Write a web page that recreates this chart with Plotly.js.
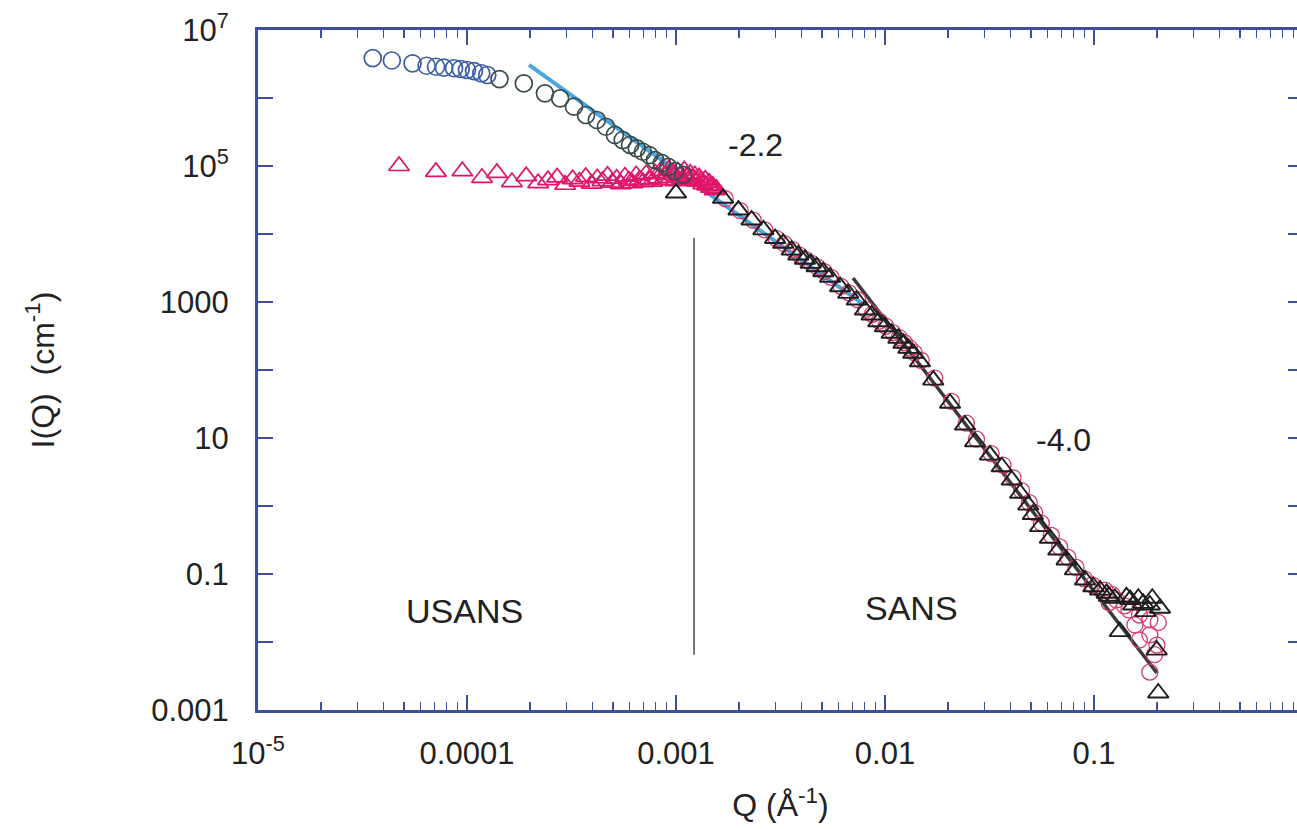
<!DOCTYPE html>
<html>
<head>
<meta charset="utf-8">
<script src="https://cdn.plot.ly/plotly-3.0.1.min.js"></script>
<style>
html, body { margin: 0; padding: 0; overflow: hidden; background: #fff; }
#chart { width: 1320px; height: 829px; }
</style>
</head>
<body>
<div id="chart"></div>
<script>
// ---- USANS circles (sample A) ----
const usansCircleBlueQ = [3.54e-5, 4.37e-5, 5.49e-5, 6.41e-5, 7.11e-5, 7.76e-5, 8.67e-5, 9.33e-5, 1.00e-4, 1.08e-4, 1.17e-4, 1.25e-4];
const usansCircleBlueI = [3.87e6, 3.56e6, 3.24e6, 2.98e6, 2.88e6, 2.79e6, 2.74e6, 2.67e6, 2.58e6, 2.49e6, 2.31e6, 2.18e6];
const usansCircleDarkQ = [1.43e-4, 1.87e-4, 2.36e-4, 2.79e-4, 3.25e-4, 3.71e-4, 4.18e-4, 4.62e-4, 5.10e-4, 5.56e-4, 6.03e-4, 6.49e-4, 6.94e-4, 7.45e-4, 7.94e-4, 8.55e-4, 9.17e-4, 9.89e-4, 1.08e-3];
const usansCircleDarkI = [1.90e6, 1.64e6, 1.17e6, 9.9e5, 7.45e5, 5.62e5, 4.75e5, 3.78e5, 2.86e5, 2.41e5, 2.04e5, 1.82e5, 1.62e5, 1.45e5, 1.22e5, 1.10e5, 9.7e4, 8.4e4, 7.4e4];

// ---- USANS triangles (sample B) ----
const usansTriQ = [4.73e-5, 7.1e-5, 9.5e-5, 1.18e-4, 1.39e-4, 1.64e-4, 1.92e-4, 2.19e-4, 2.44e-4, 2.7e-4,
  2.95e-4, 3.2e-4, 3.45e-4, 3.7e-4, 3.95e-4, 4.2e-4, 4.45e-4, 4.7e-4, 4.95e-4, 5.2e-4,
  5.45e-4, 5.7e-4, 5.95e-4, 6.2e-4, 6.45e-4, 6.7e-4, 6.95e-4, 7.2e-4, 7.45e-4, 7.7e-4,
  7.95e-4, 8.2e-4, 8.45e-4, 8.7e-4, 8.95e-4, 9.2e-4, 9.45e-4, 9.7e-4, 9.95e-4, 1.02e-3,
  1.045e-3, 1.07e-3, 1.095e-3, 1.12e-3, 1.145e-3, 1.17e-3, 1.2e-3, 1.23e-3, 1.26e-3, 1.29e-3,
  1.32e-3, 1.35e-3, 1.38e-3, 1.41e-3, 1.44e-3, 1.47e-3, 1.5e-3, 1.53e-3, 1.56e-3];
const usansTriI = [1.0e5, 8.2e4, 8.4e4, 6.7e4, 7.9e4, 5.8e4, 7.1e4, 5.6e4, 6.2e4, 6.8e4,
  5.3e4, 6.4e4, 5.9e4, 6.9e4, 5.5e4, 6.6e4, 6.0e4, 7.2e4, 5.7e4, 6.5e4,
  5.4e4, 7.0e4, 6.1e4, 5.6e4, 7.3e4, 6.3e4, 5.8e4, 7.6e4, 6.4e4, 5.9e4,
  7.8e4, 6.6e4, 8.5e4, 6.2e4, 7.4e4, 8.8e4, 6.7e4, 7.9e4, 6.0e4, 8.3e4,
  7.1e4, 6.4e4, 8.6e4, 7.0e4, 6.2e4, 7.7e4, 6.6e4, 7.3e4, 5.9e4, 6.8e4,
  6.1e4, 5.4e4, 6.3e4, 5.2e4, 5.7e4, 4.8e4, 5.1e4, 4.4e4, 4.6e4];

// ---- SANS circles (sample B) ----
const sansCircleQ = [1.72e-3, 2.03e-3, 2.34e-3, 2.66e-3, 3.02e-3, 3.3e-3, 3.62e-3, 3.9e-3, 4.18e-3, 4.46e-3,
  4.76e-3, 5.12e-3, 5.52e-3, 6.15e-3, 6.72e-3, 7.4e-3, 8.1e-3, 8.7e-3, 9.4e-3, 0.0101,
  0.0109, 0.0117, 0.0124, 0.0131, 0.0138, 0.0149, 0.0173, 0.0208, 0.0245, 0.0274,
  0.0322, 0.0367, 0.041, 0.045, 0.049, 0.052, 0.056, 0.0625, 0.0685, 0.075,
  0.082, 0.09, 0.098, 0.113, 0.122, 0.128, 0.147, 0.165, 0.185, 0.157,
  0.185, 0.2, 0.165, 0.195, 0.185, 0.203, 0.14, 0.118];
const sansCircleI = [3.3e4, 2.2e4, 1.6e4, 1.15e4, 8.6e3, 7.2e3, 5.9e3, 4.9e3, 4.2e3, 3.7e3,
  3.25e3, 2.8e3, 2.3e3, 1.7e3, 1.36e3, 1.08e3, 780, 660, 525, 440,
  355, 300, 252, 212, 180, 138, 76, 34.5, 16.5, 9.6,
  5.9, 4.0, 2.6, 1.68, 1.12, 0.8, 0.56, 0.37, 0.25, 0.175,
  0.125, 0.085, 0.069, 0.058, 0.050, 0.0415, 0.0296, 0.0249, 0.0211, 0.0178,
  0.0127, 0.009, 0.0107, 0.0065, 0.0036, 0.0194, 0.034, 0.038];

// ---- SANS triangles (sample A) ----
const sansTriQ = [1.0e-3, 1.68e-3, 1.99e-3, 2.30e-3, 2.62e-3, 2.98e-3, 3.26e-3, 3.58e-3, 3.85e-3, 4.14e-3, 4.41e-3,
  4.71e-3, 5.07e-3, 5.46e-3, 6.10e-3, 6.67e-3, 7.33e-3, 8.02e-3, 8.63e-3, 9.29e-3, 0.0100,
  0.01076, 0.01159, 0.01225, 0.01294, 0.01365, 0.01469, 0.01702, 0.02047, 0.02415, 0.02698,
  0.03177, 0.0362, 0.0404, 0.0443, 0.0485, 0.051, 0.0552, 0.0615, 0.0675, 0.0740,
  0.0811, 0.0906, 0.0993, 0.107, 0.115, 0.126, 0.133, 0.143, 0.154, 0.172,
  0.185, 0.1995, 0.203, 0.207, 0.149, 0.118, 0.163, 0.19, 0.176];
const sansTriI = [4.0e4, 3.35e4, 2.25e4, 1.61e4, 1.15e4, 8.6e3, 7.3e3, 5.8e3, 4.9e3, 4.25e3, 3.7e3,
  3.3e3, 2.79e3, 2.31e3, 1.68e3, 1.34e3, 1.07e3, 762, 644, 513, 433,
  347, 292, 247, 208, 176, 132, 71, 32.4, 15.5, 8.8,
  5.6, 3.78, 2.41, 1.54, 1.03, 0.75, 0.497, 0.335, 0.225, 0.161,
  0.115, 0.0817, 0.065, 0.058, 0.052, 0.044, 0.0142, 0.046, 0.035, 0.037,
  0.035, 0.0076, 0.00178, 0.0313, 0.042, 0.047, 0.044, 0.044, 0.028];

// ---- power-law fits and USANS/SANS divider ----
const fitLowQ = [1.98e-4, 7.76e-3];
const fitLowI = [3.06e6, 955];
const fitHighQ = [0.00703, 0.2];
const fitHighI = [2254, 0.0035];
const dividerQ = [0.00122, 0.00122];
const dividerI = [8800, 0.0065];

// ---- tick labels ----
const xTickVals = [1e-5, 1e-4, 1e-3, 1e-2, 1e-1];
const xTickText = ['10<sup>-5</sup>', '0.0001', '0.001', '0.01', '0.1'];
const yTickVals = [1e-3, 1e-1, 10, 1000, 1e5, 1e7];
const yTickText = ['0.001', '0.1', '10', '1000', '10<sup>5</sup>', '10<sup>7</sup>'];
const yUnlabeledTicks = [1e-2, 1, 100, 1e4, 1e6];

const xMinor = [];
for (let e = -5; e < 0; e++) for (let m = 2; m <= 9; m++) xMinor.push(m * Math.pow(10, e));

const FRAME = '#3f4f9e';
const FONT = 'Liberation Sans, Arial, Helvetica, sans-serif';

const traces = [
  {x: fitLowQ, y: fitLowI, mode: 'lines', line: {color: '#4aa6e0', width: 4}},
  {x: fitHighQ, y: fitHighI, mode: 'lines', line: {color: '#3a3a3a', width: 3.5}},
  {x: dividerQ, y: dividerI, mode: 'lines', line: {color: '#4a4a4a', width: 1.5}},
  {x: sansCircleQ, y: sansCircleI, mode: 'markers',
   marker: {symbol: 'circle-open', size: 16, color: '#db3a6e', line: {width: 1.3}}},
  {x: usansTriQ, y: usansTriI, mode: 'markers',
   marker: {symbol: 'triangle-up-open', size: 18, color: '#e0156a', line: {width: 1.7}}},
  {x: usansCircleBlueQ, y: usansCircleBlueI, mode: 'markers',
   marker: {symbol: 'circle-open', size: 17, color: '#3c5da6', line: {width: 1.7}}},
  {x: usansCircleDarkQ, y: usansCircleDarkI, mode: 'markers',
   marker: {symbol: 'circle-open', size: 17, color: '#3a4d4c', line: {width: 1.7}}},
  {x: sansTriQ, y: sansTriI, mode: 'markers',
   marker: {symbol: 'triangle-up-open', size: 18, color: '#1e1e1e', line: {width: 1.9}}}
];

const layout = {
  width: 1320, height: 829,
  margin: {l: 258, r: 17, t: 30, b: 119},
  paper_bgcolor: '#ffffff', plot_bgcolor: '#ffffff',
  showlegend: false,
  font: {family: FONT, color: '#222', size: 31},
  xaxis: {
    type: 'log', range: [-5, 0], showgrid: false, zeroline: false,
    showline: true, linecolor: FRAME, linewidth: 3, mirror: 'allticks',
    ticks: 'inside', ticklen: 15, tickwidth: 1.5, tickcolor: FRAME,
    tickmode: 'array', tickvals: xTickVals, ticktext: xTickText,
    ticklabelstandoff: 14,
    minor: {tickmode: 'array', tickvals: xMinor, ticks: 'inside', ticklen: 8, tickwidth: 1.2, tickcolor: FRAME, showgrid: false},
    tickfont: {family: FONT, size: 31, color: '#222'},
    title: {text: 'Q (Å<sup>-1</sup>)', font: {family: FONT, size: 32, color: '#222'}, standoff: 24}
  },
  yaxis: {
    type: 'log', range: [-3, 7], showgrid: false, zeroline: false,
    showline: true, linecolor: FRAME, linewidth: 3, mirror: 'allticks',
    ticks: 'inside', ticklen: 15, tickwidth: 1.5, tickcolor: FRAME,
    tickmode: 'array', tickvals: yTickVals, ticktext: yTickText,
    ticklabelstandoff: 20,
    minor: {tickmode: 'array', tickvals: yUnlabeledTicks, ticks: 'inside', ticklen: 15, tickwidth: 1.5, tickcolor: FRAME, showgrid: false},
    tickfont: {family: FONT, size: 31, color: '#222'},
    title: {text: 'I(Q)  (cm<sup>-1</sup>)', font: {family: FONT, size: 32, color: '#222'}, standoff: 88}
  },
  annotations: [
    {x: -2.622, y: 5.309, xref: 'x', yref: 'y', text: '-2.2', showarrow: false, font: {size: 32, color: '#222'}},
    {x: -1.148, y: 0.971, xref: 'x', yref: 'y', text: '-4.0', showarrow: false, font: {size: 32, color: '#222'}},
    {x: -4.014, y: -1.544, xref: 'x', yref: 'y', text: 'USANS', showarrow: false, font: {size: 34, color: '#222'}},
    {x: -1.871, y: -1.5, xref: 'x', yref: 'y', text: 'SANS', showarrow: false, font: {size: 34, color: '#222'}}
  ]
};

Plotly.newPlot('chart', traces, layout, {displayModeBar: false, staticPlot: true});
</script>
</body>
</html>
